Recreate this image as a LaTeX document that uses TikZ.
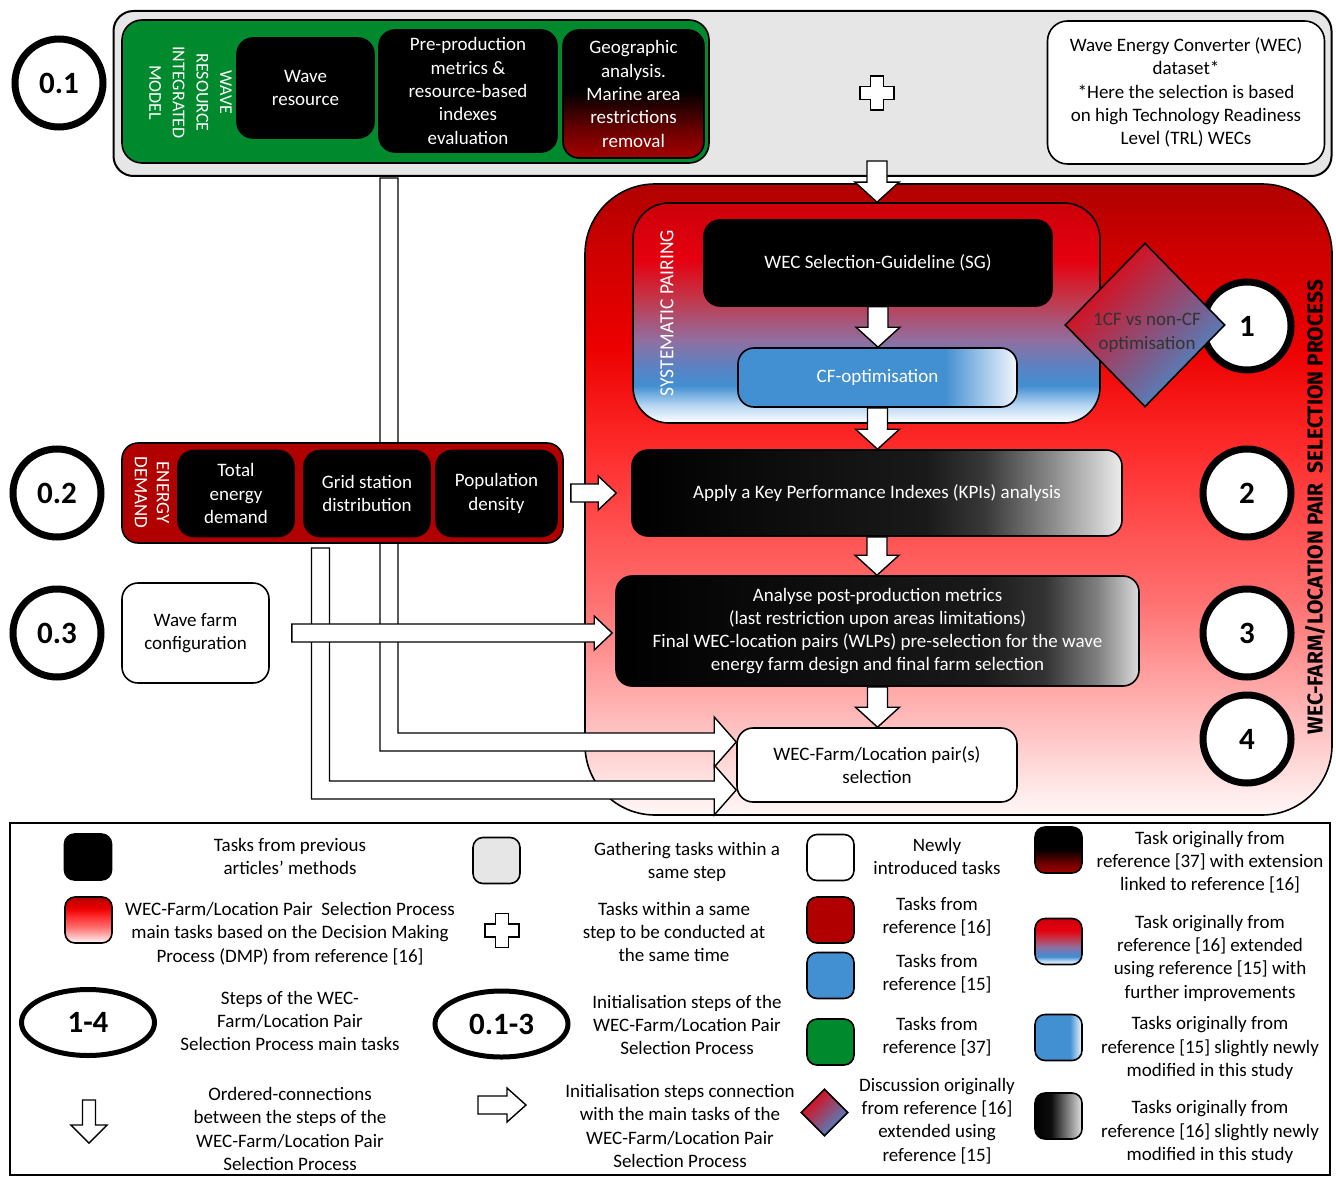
\documentclass[tikz,border=0pt]{standalone}
\usepackage{fontspec}
\setmainfont{Carlito}
\newfontfamily\titlefont{Fira Sans}
\usepackage{graphicx}
\usetikzlibrary{shapes.geometric,calc}

\definecolor{gathergray}{RGB}{230,230,230}
\definecolor{wavegreen}{RGB}{0,138,45}
\definecolor{refred}{RGB}{176,0,0}
\definecolor{refblue}{RGB}{66,143,209}
\definecolor{discred}{RGB}{232,0,10}

\pgfdeclareverticalshading{selshade}{100bp}{rgb(0bp)=(1,0.97,0.97); rgb(25bp)=(1,0.97,0.97); rgb(28bp)=(1,0.88,0.88); rgb(34bp)=(1,0.69,0.69); rgb(42bp)=(1,0.44,0.44); rgb(54bp)=(1,0.17,0.17); rgb(62bp)=(0.93,0,0); rgb(70bp)=(0.8,0,0); rgb(75bp)=(0.69,0,0); rgb(100bp)=(0.69,0,0)}
\pgfdeclareverticalshading{pairshade}{100bp}{rgb(0bp)=(1,1,1); rgb(25bp)=(1,1,1); rgb(29bp)=(0.72,0.84,0.95); rgb(33.5bp)=(0.26,0.56,0.82); rgb(37bp)=(0.33,0.52,0.78); rgb(44bp)=(0.57,0.43,0.62); rgb(53bp)=(0.76,0.22,0.3); rgb(62bp)=(0.9,0,0.06); rgb(75bp)=(0.8,0,0.04); rgb(100bp)=(0.8,0,0.04)}
\pgfdeclareverticalshading{geoshade}{100bp}{rgb(0bp)=(0.65,0,0); rgb(25bp)=(0.65,0,0); rgb(36bp)=(0.42,0,0); rgb(50bp)=(0.03,0,0); rgb(53bp)=(0,0,0); rgb(100bp)=(0,0,0)}
\pgfdeclarehorizontalshading{kpishade}{100bp}{rgb(0bp)=(0,0,0); rgb(25bp)=(0,0,0); rgb(55bp)=(0.1,0.1,0.1); rgb(61bp)=(0.22,0.22,0.22); rgb(68bp)=(0.55,0.55,0.55); rgb(75bp)=(0.93,0.93,0.93); rgb(100bp)=(0.93,0.93,0.93)}
\pgfdeclarehorizontalshading{postshade}{100bp}{rgb(0bp)=(0,0,0); rgb(25bp)=(0,0,0); rgb(60bp)=(0.1,0.1,0.1); rgb(66bp)=(0.2,0.2,0.2); rgb(71bp)=(0.5,0.5,0.5); rgb(75bp)=(0.86,0.86,0.86); rgb(100bp)=(0.86,0.86,0.86)}
\pgfdeclarehorizontalshading{cfshade}{100bp}{rgb(0bp)=(0.26,0.56,0.82); rgb(62bp)=(0.26,0.56,0.82); rgb(75bp)=(0.95,0.97,1); rgb(100bp)=(0.95,0.97,1)}
\pgfdeclarehorizontalshading{bwshade}{100bp}{rgb(0bp)=(0,0,0); rgb(25bp)=(0,0,0); rgb(42bp)=(0.05,0.05,0.05); rgb(75bp)=(0.88,0.88,0.88); rgb(100bp)=(0.88,0.88,0.88)}

\tikzset{
  box/.style={draw=black, line width=0.8pt, rounded corners=8pt, align=center, inner sep=1pt},
  taskbox/.style={box, fill=black, text=white},
  newbox/.style={box, fill=white, text=black},
  shadebox/.style={box, shade, shading=#1},
  wh/.style 2 args={minimum width=#1*0.5pt, minimum height=#2*0.5pt},
  stepcirc/.style={circle, draw=black, line width=3.5pt, fill=white, minimum size=44pt, inner sep=0pt, font=\bfseries\fontsize{15.5}{18}\selectfont},
  stepoval/.style={ellipse, draw=black, line width=2.5pt, fill=white, inner sep=0pt, font=\bfseries\fontsize{15.5}{18}\selectfont},
  blockarrow/.style={draw=black, fill=white, line width=0.7pt, line join=miter},
  swatch/.style={box, rounded corners=5pt, minimum width=23.5pt, minimum height=23pt},
  legtext/.style={align=center},
  discshape/.style={diamond, draw=black, line width=0.8pt, top color=discred, bottom color=refblue, shading angle=45, inner sep=0pt}
}

\newcommand\vblock[2]{\draw[blockarrow] ($(#1)+(-10,0)$) -- ($(#1 |- #2)+(-10,-20)$) -- ($(#1 |- #2)+(-22,-20)$) -- (#1 |- #2) -- ($(#1 |- #2)+(22,-20)$) -- ($(#1 |- #2)+(10,-20)$) -- ($(#1)+(10,0)$) -- cycle;}
\newcommand\hblock[2]{\draw[blockarrow] ($(#1)+(0,-9)$) -- ($(#2 |- #1)+(-18,-9)$) -- ($(#2 |- #1)+(-18,-17)$) -- (#2 |- #1) -- ($(#2 |- #1)+(-18,17)$) -- ($(#2 |- #1)+(-18,9)$) -- ($(#1)+(0,9)$) -- cycle;}
\newcommand\lblock[2]{\draw[blockarrow] ($(#1)+(-9,0)$) |- ($(#2)+(-22,9)$) -- ($(#2)+(-22,25)$) -- (#2) -- ($(#2)+(-22,-25)$) -- ($(#2)+(-22,-9)$) -| ($(#1)+(9,0)$) -- cycle;}
\newcommand\plusmark[1]{\draw[blockarrow, shift={(#1)}] (-6.5,-17) -- (6.5,-17) -- (6.5,-6.5) -- (17,-6.5) -- (17,6.5) -- (6.5,6.5) -- (6.5,17) -- (-6.5,17) -- (-6.5,6.5) -- (-17,6.5) -- (-17,-6.5) -- (-6.5,-6.5) -- cycle;}

\begin{document}
\begin{tikzpicture}[x=0.5pt, y=-0.5pt, font=\fontsize{9.5}{11.65}\selectfont]
\useasboundingbox (0,0) rectangle (1336,1176);

\node[box, fill=gathergray, rounded corners=10pt, line width=1pt, wh={1218}{165}] (gather) at (722.5,93.5) {};
\node[box, fill=wavegreen, rounded corners=10pt, wh={587}{143}] (wrim) at (415.5,91.5) {};
\node[rotate=-90, text=white, align=center, font=\fontsize{9}{11.8}\selectfont] (wrimlabel) at (190.5,92.5) {WAVE\\RESOURCE\\INTEGRATED\\MODEL};
\node[taskbox, wh={137}{100}] (wave) at (305.5,88) {Wave\\resource};
\node[taskbox, wh={178}{122}] (preprod) at (468,91) {Pre-production\\metrics \&\\resource-based\\indexes\\evaluation};
\node[shadebox=geoshade, text=white, wh={141}{128}] (geo) at (633.5,94) {Geographic\\analysis.\\Marine area\\restrictions\\removal};
\coordinate (gplus) at (877,93);
\plusmark{gplus}
\node[newbox, rounded corners=10pt, wh={277}{143}] (dataset) at (1186,92.5) {Wave Energy Converter (WEC)\\dataset*\\*Here the selection is based\\on high Technology Readiness\\Level (TRL) WECs};

\node[stepcirc] (s01) at (59,83) {0.1};
\node[stepcirc] (s02) at (57,493) {0.2};
\node[stepcirc] (s03) at (57,633) {0.3};

\node[shadebox=selshade, rounded corners=35pt, wh={747}{631}] (selproc) at (958.5,499.5) {};
\node[shadebox=pairshade, rounded corners=18pt, wh={467}{220}] (pair) at (866.5,313) {};
\node[rotate=90, text=white] (pairlabel) at (667,313) {\resizebox{83pt}{6.5pt}{SYSTEMATIC PAIRING}};
\node[taskbox, wh={348}{86}] (sg) at (878,263) {WEC Selection-Guideline (SG)};
\node[shadebox=cfshade, text=white, wh={279}{59}] (cf) at (877.5,377.5) {CF-optimisation};
\node[stepcirc] (s1) at (1247,326) {1};
\node[stepcirc] (s2) at (1247,493) {2};
\node[stepcirc] (s3) at (1247,633) {3};
\node[stepcirc] (s4) at (1247,739) {4};
\node[discshape, minimum width=80pt, minimum height=82pt] (disc) at (1145,325) {};
\node[align=center, text=black!80] (disctext) at (1147,333) {1CF vs non-CF\\optimisation};
\node[rotate=90] (title) at (1315,507) {\resizebox{227pt}{8.8pt}{\titlefont\bfseries WEC-FARM/LOCATION PAIR\ \ SELECTION PROCESS}};
\node[shadebox=kpishade, text=white, wh={490}{86}] (kpi) at (877,493) {Apply a Key Performance Indexes (KPIs) analysis};
\node[shadebox=postshade, text=white, wh={523}{110}] (post) at (877.5,631) {Analyse post-production metrics\\(last restriction upon areas limitations)\\Final WEC-location pairs (WLPs) pre-selection for the wave\\energy farm design and final farm selection};
\node[newbox, wh={280}{74}] (pairsel) at (877,765) {WEC-Farm/Location pair(s)\\selection};

\coordinate (g0) at (877,161);
\vblock{g0}{pair.north}
\vblock{sg.south}{cf.north}
\vblock{cf.south}{kpi.north}
\vblock{kpi.south}{post.north}
\vblock{post.south}{pairsel.north}
\coordinate (srcA) at (389,178);
\coordinate (tipA) at ($(pairsel.west)+(0,-23)$);
\coordinate (srcB) at (320.5,548);
\coordinate (tipB) at ($(pairsel.west)+(0,25)$);
\lblock{srcA}{tipA}
\lblock{srcB}{tipB}

\node[box, fill=refred, wh={441}{100}] (energy) at (342.5,493) {};
\node[rotate=-90, text=white, align=center, font=\fontsize{9.5}{11}\selectfont] (energylabel) at (152,492.5) {ENERGY\\DEMAND};
\node[taskbox, wh={116}{86}] (demand) at (236,493.5) {Total\\energy\\demand};
\node[taskbox, wh={126}{86}] (grid) at (367,493.5) {Grid station\\distribution};
\node[taskbox, wh={121}{86}] (popul) at (496.5,493.5) {Population\\density};
\node[newbox, wh={147}{100}] (farm) at (195.5,633) {Wave farm\\configuration};
\coordinate (e02) at ($(energy.east)+(7,0)$);
\coordinate (t02) at ($(kpi.west)+(-15,0)$);
\hblock{e02}{t02}
\coordinate (e03) at ($(farm.east)+(22,0)$);
\coordinate (t03) at ($(post.west)+(-3,0)$);
\hblock{e03}{t03}

\node[draw=black, line width=0.9pt, inner sep=0pt, wh={1320}{352}] (legend) at (670,999) {};
\node[swatch, fill=black] (swprev) at (88,857) {};
\node[legtext] (txprev) at (290,856.5) {Tasks from previous\\articles’ methods};
\node[swatch, fill=gathergray] (swgather) at (496.5,860.5) {};
\node[legtext] (txgather) at (687,862) {Gathering tasks within a\\same step};
\node[swatch, fill=white] (swnew) at (830.5,857.5) {};
\node[legtext] (txnew) at (937,856.5) {Newly\\introduced tasks};
\node[swatch, shade, shading=geoshade] (swext37) at (1058.5,850) {};
\node[legtext] (txext37) at (1210,862) {Task originally from\\reference [37] with extension\\linked to reference [16]};

\node[swatch, shade, shading=selshade] (swdmp) at (88.5,920) {};
\node[legtext] (txdmp) at (290,933.5) {WEC-Farm/Location Pair\ \ Selection Process\\main tasks based on the Decision Making\\Process (DMP) from reference [16]};
\coordinate (lgplus) at (502,930.5);
\plusmark{lgplus}
\node[legtext] (txsame) at (674,932) {Tasks within a same\\step to be conducted at\\the same time};
\node[swatch, fill=refred] (swref16) at (830.5,920) {};
\node[legtext] (txref16) at (937,917) {Tasks from\\reference [16]};
\node[swatch, fill=refblue] (swref15) at (830.5,975.5) {};
\node[legtext] (txref15) at (937,974) {Tasks from\\reference [15]};
\node[swatch, shade, shading=pairshade] (swext16) at (1058.5,941.5) {};
\node[legtext] (txext16) at (1210,958) {Task originally from\\reference [16] extended\\using reference [15] with\\further improvements};

\node[stepoval, minimum width=66.5pt, minimum height=33pt] (ovsteps) at (88,1022.5) {1-4};
\node[legtext] (txsteps) at (290,1021) {Steps of the WEC-\\Farm/Location Pair\\Selection Process main tasks};
\node[stepoval, minimum width=66.5pt, minimum height=33pt] (ovinit) at (501.5,1024) {0.1-3};
\node[legtext] (txinit) at (687,1025) {Initialisation steps of the\\WEC-Farm/Location Pair\\Selection Process};
\node[swatch, fill=wavegreen] (swref37) at (830.5,1042) {};
\node[legtext] (txref37) at (937,1036.5) {Tasks from\\reference [37]};
\node[swatch, shade, shading=cfshade] (swmod15) at (1058.5,1037.5) {};
\node[legtext] (txmod15) at (1210,1048) {Tasks originally from\\reference [15] slightly newly\\modified in this study};

\draw[blockarrow] (82.5,1100) -- (82.5,1125) -- (71,1125) -- (89,1143) -- (107,1125) -- (95.5,1125) -- (95.5,1100) -- cycle;
\node[legtext] (txorder) at (290,1129) {Ordered-connections\\between the steps of the\\WEC-Farm/Location Pair\\Selection Process};
\draw[blockarrow] (478,1096) -- (507,1096) -- (507,1088) -- (526,1105) -- (507,1122) -- (507,1114) -- (478,1114) -- cycle;
\node[legtext] (txconn) at (680,1126) {Initialisation steps connection\\with the main tasks of the\\WEC-Farm/Location Pair\\Selection Process};
\node[discshape, minimum width=23.5pt, minimum height=23.5pt] (lgdisc) at (824.5,1112.5) {};
\node[legtext] (txdisc) at (937,1121) {Discussion originally\\from reference [16]\\extended using\\reference [15]};
\node[swatch, shade, shading=bwshade] (swmod16) at (1058.5,1116) {};
\node[legtext] (txmod16) at (1210,1132) {Tasks originally from\\reference [16] slightly newly\\modified in this study};
\end{tikzpicture}
\end{document}
